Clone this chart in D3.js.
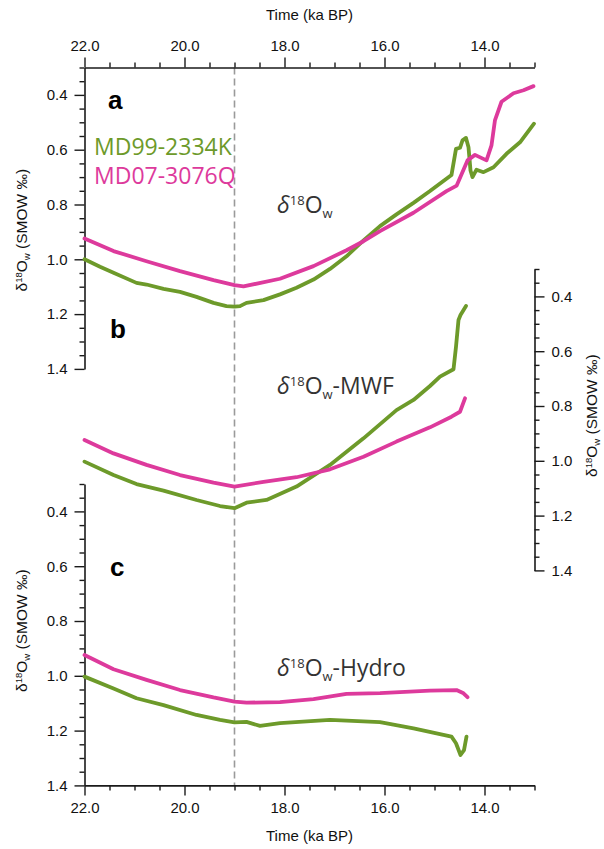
<!DOCTYPE html>
<html>
<head>
<meta charset="utf-8">
<script src="https://cdn.jsdelivr.net/npm/d3@7"></script>
<style>
  body { margin: 0; background: #fff; }
  svg { display: block; }
</style>
</head>
<body>
<svg id="chart" width="604" height="849"></svg>
<script>
// ---- data: [time (ka BP), d18Ow (SMOW permil)] ----
const timeTicks = [22, 20, 18, 16, 14];
const valueTicks = [0.4, 0.6, 0.8, 1.0, 1.2, 1.4];
const seriesNames = ["MD99-2334K", "MD07-3076Q"];

// (a) seawater d18O
const md99Total = [
  [22.0, 1.000], [21.69, 1.027], [21.42, 1.049], [20.96, 1.086], [20.76, 1.092],
  [20.42, 1.108], [20.09, 1.119], [19.76, 1.137], [19.42, 1.159], [19.16, 1.171],
  [19.0, 1.173], [18.89, 1.171], [18.76, 1.159], [18.42, 1.149], [18.09, 1.128],
  [17.76, 1.104], [17.42, 1.074], [17.09, 1.035], [16.76, 0.989], [16.42, 0.931],
  [16.09, 0.879], [15.76, 0.836], [15.42, 0.794], [15.09, 0.751], [14.66, 0.692],
  [14.57, 0.597], [14.49, 0.593], [14.44, 0.566], [14.37, 0.557], [14.32, 0.591],
  [14.28, 0.676], [14.24, 0.700], [14.16, 0.673], [14.02, 0.682], [13.82, 0.664],
  [13.56, 0.615], [13.29, 0.573], [13.01, 0.505]
];
const md07Total = [
  [22.0, 0.924], [21.42, 0.970], [20.76, 1.007], [20.09, 1.043], [19.42, 1.076],
  [19.0, 1.094], [18.82, 1.099], [18.09, 1.071], [17.42, 1.025], [16.76, 0.967],
  [16.42, 0.934], [16.09, 0.897], [15.42, 0.830], [14.76, 0.751], [14.556, 0.731],
  [14.34, 0.639], [14.19, 0.619], [13.96, 0.639], [13.86, 0.584], [13.79, 0.492],
  [13.66, 0.425], [13.42, 0.394], [13.22, 0.383], [13.02, 0.368]
];

// (b) meltwater-flux component
const md99MWF = [
  [22.0, 1.003], [21.42, 1.052], [20.96, 1.085], [20.42, 1.109], [19.76, 1.143],
  [19.29, 1.165], [19.0, 1.173], [18.76, 1.153], [18.36, 1.143], [17.76, 1.094],
  [17.09, 1.015], [16.42, 0.918], [15.76, 0.815], [15.42, 0.778], [15.09, 0.727],
  [14.89, 0.693], [14.62, 0.666], [14.57, 0.584], [14.52, 0.486], [14.48, 0.468],
  [14.44, 0.456], [14.37, 0.435]
];
const md07MWF = [
  [22.0, 0.924], [21.42, 0.973], [20.76, 1.015], [20.09, 1.052], [19.42, 1.080],
  [19.0, 1.094], [18.42, 1.077], [17.76, 1.060], [17.09, 1.031], [16.42, 0.985],
  [15.76, 0.930], [15.09, 0.878], [14.66, 0.839], [14.49, 0.821], [14.39, 0.772]
];

// (c) hydrological component
const md99Hydro = [
  [22.0, 1.003], [21.42, 1.046], [20.96, 1.082], [20.42, 1.107], [19.76, 1.143],
  [19.29, 1.161], [19.0, 1.170], [18.76, 1.168], [18.49, 1.183], [18.09, 1.173],
  [17.09, 1.161], [16.09, 1.169], [15.42, 1.192], [14.66, 1.222], [14.57, 1.246],
  [14.48, 1.289], [14.41, 1.271], [14.36, 1.222]
];
const md07Hydro = [
  [22.0, 0.924], [21.42, 0.976], [20.76, 1.015], [20.09, 1.052], [19.42, 1.079],
  [19.0, 1.094], [18.76, 1.098], [18.09, 1.096], [17.42, 1.085], [16.76, 1.066],
  [16.09, 1.063], [15.09, 1.054], [14.56, 1.052], [14.42, 1.064], [14.34, 1.078]
];

// ---- layout ----
const svg = d3.select("#chart");
const green = "#6d9a2a", magenta = "#dd3a9c";
const tickFont = "'Liberation Sans', Arial, Helvetica, sans-serif";
const textFont = "'Open Sans', 'Noto Sans', sans-serif";

const x = d3.scaleLinear().domain([22, 13]).range([84.5, 534.5]);
const panelH = 301.4;
const panels = {
  a: { top: 67.5 },
  b: { top: 269 },
  c: { top: 484 }
};
for (const k in panels) {
  panels[k].y = d3.scaleLinear().domain([0.3, 1.4]).range([panels[k].top, panels[k].top + panelH]);
}

const minorTime = d3.range(13, 22.001, 0.5).filter(d => !timeTicks.includes(d));
const minorValue = d3.range(0.3, 1.4001, 0.05)
  .map(d => +d.toFixed(2))
  .filter(d => !valueTicks.some(v => Math.abs(v - d) < 1e-6));

function styleAxis(g) {
  g.selectAll("path.domain").attr("stroke", "#1a1a1a").attr("stroke-width", 1.6);
  g.selectAll(".tick line").attr("stroke", "#1a1a1a").attr("stroke-width", 1.4);
  g.selectAll(".tick text")
    .attr("font-family", tickFont).attr("font-size", 15).attr("fill", "#111");
}

function drawAxis(axisFn, scale, majors, minors, transform, fmt) {
  const g = svg.append("g").attr("transform", transform);
  g.call(axisFn(scale).tickValues(majors).tickFormat(d3.format(fmt))
    .tickSize(10).tickSizeOuter(0).tickPadding(7));
  const m = svg.append("g").attr("transform", transform);
  m.call(axisFn(scale).tickValues(minors).tickFormat("").tickSize(5).tickSizeOuter(0));
  m.select("path.domain").remove();
  styleAxis(g); styleAxis(m);
  return g;
}

// reference line at 19 ka
svg.append("line")
  .attr("x1", x(19)).attr("x2", x(19))
  .attr("y1", panels.a.top).attr("y2", panels.c.top + panelH)
  .attr("stroke", "#9a9a9a").attr("stroke-width", 1.6)
  .attr("stroke-dasharray", "7,4");

// time axes
drawAxis(d3.axisTop, x, timeTicks, minorTime, `translate(0,${panels.a.top})`, ".1f");
drawAxis(d3.axisBottom, x, timeTicks, minorTime, `translate(0,${panels.c.top + panelH})`, ".1f");

// value axes
drawAxis(d3.axisLeft, panels.a.y, valueTicks, minorValue, `translate(${x(22)},0)`, ".1f");
drawAxis(d3.axisRight, panels.b.y, valueTicks, minorValue, `translate(${x(13)},0)`, ".1f");
drawAxis(d3.axisLeft, panels.c.y, valueTicks, minorValue, `translate(${x(22)},0)`, ".1f");

// axis titles
function timeTitle(yPos) {
  svg.append("text").attr("x", 309.5).attr("y", yPos)
    .attr("text-anchor", "middle")
    .attr("font-family", tickFont).attr("font-size", 15).attr("fill", "#111")
    .text("Time (ka BP)");
}
timeTitle(20);
timeTitle(841);

function valueTitle(cx, cy) {
  const t = svg.append("text")
    .attr("transform", `translate(${cx},${cy}) rotate(-90)`)
    .attr("text-anchor", "middle")
    .attr("font-family", tickFont).attr("font-size", 15.5).attr("fill", "#111");
  t.append("tspan").text("δ");
  t.append("tspan").attr("dy", -5).attr("font-size", 9.5).text("18");
  t.append("tspan").attr("dy", 5).text("O");
  t.append("tspan").attr("dy", 3).attr("font-size", 9.5).text("w");
  t.append("tspan").attr("dy", -3).text(" (SMOW ‰)");
}
valueTitle(27, panels.a.top + panelH / 2 + 12);
valueTitle(597, panels.b.top + panelH / 2 - 4);
valueTitle(27, panels.c.top + panelH / 2 - 4);

// series lines
const line = yScale => d3.line().x(d => x(d[0])).y(d => yScale(d[1]));
function drawSeries(data, yScale, color) {
  svg.append("path").datum(data)
    .attr("d", line(yScale))
    .attr("fill", "none").attr("stroke", color)
    .attr("stroke-width", 3.8).attr("stroke-linejoin", "round").attr("stroke-linecap", "round");
}
drawSeries(md99Total, panels.a.y, green);
drawSeries(md07Total, panels.a.y, magenta);
drawSeries(md99MWF, panels.b.y, green);
drawSeries(md07MWF, panels.b.y, magenta);
drawSeries(md99Hydro, panels.c.y, green);
drawSeries(md07Hydro, panels.c.y, magenta);

// panel letters
[["a", 108, 109], ["b", 110, 338], ["c", 110, 576]].forEach(([s, px, py]) => {
  svg.append("text").attr("x", px).attr("y", py)
    .attr("font-family", tickFont).attr("font-weight", "bold")
    .attr("font-size", 26).attr("fill", "#000").text(s);
});

// legend
svg.append("text").attr("x", 94).attr("y", 155)
  .attr("font-family", textFont).attr("font-size", 23).attr("fill", green).text(seriesNames[0]);
svg.append("text").attr("x", 94).attr("y", 184)
  .attr("font-family", textFont).attr("font-size", 23).attr("fill", magenta).text(seriesNames[1]);

// component labels
function deltaLabel(px, py, suffix) {
  const t = svg.append("text").attr("x", px).attr("y", py)
    .attr("font-family", textFont).attr("font-size", 23).attr("fill", "#333");
  t.append("tspan").attr("font-style", "italic").text("δ");
  t.append("tspan").attr("dy", -8).attr("font-size", 13).text("18");
  t.append("tspan").attr("dy", 8).text("O");
  t.append("tspan").attr("dy", 5).attr("font-size", 13).text("w");
  t.append("tspan").attr("dy", -5).text(suffix);
}
deltaLabel(277, 213, "");
deltaLabel(277, 394, "-MWF");
deltaLabel(277, 676, "-Hydro");
</script>
</body>
</html>
